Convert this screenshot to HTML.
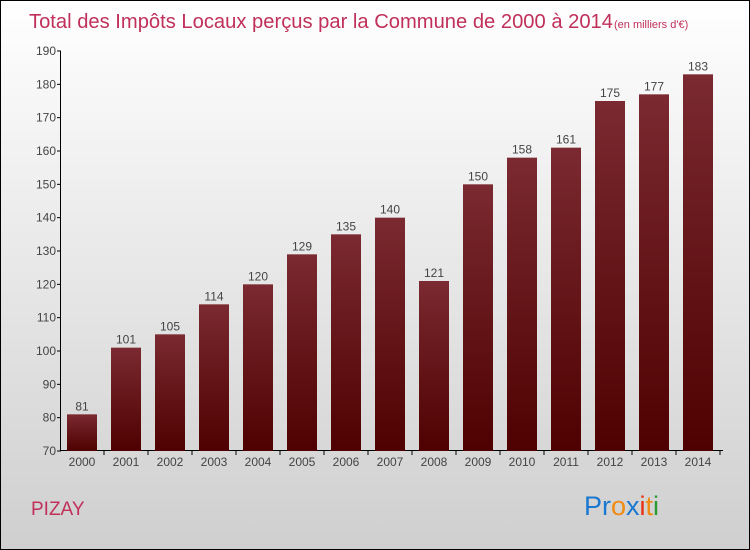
<!DOCTYPE html>
<html><head><meta charset="utf-8"><style>
body{margin:0}
#c{position:relative;width:748px;height:548px;border:1px solid #000;background:linear-gradient(#ffffff,#cfcfcf);font-family:"Liberation Sans",sans-serif;overflow:hidden}
</style></head><body>
<div id="c">
<svg width="748" height="548">
<defs><linearGradient id="g" x1="0" y1="0" x2="0" y2="1"><stop offset="0" stop-color="#7a2a30"/><stop offset="1" stop-color="#4f0000"/></linearGradient></defs>
<text x="28" y="27" font-size="20" fill="#c0305a" textLength="584" lengthAdjust="spacingAndGlyphs">Total des Impôts Locaux perçus par la Commune de 2000 à 2014</text>
<text x="613" y="27" font-size="11" fill="#c0305a">(en milliers d'€)</text>
<g id="plot"></g>
<text x="30" y="514" font-size="19" fill="#c0305a">PIZAY</text>
<text x="583" y="514" font-size="27"><tspan fill="#1a78d0">Pr</tspan><tspan fill="#f08a10">o</tspan><tspan fill="#1a78d0">x</tspan><tspan fill="#e83010">i</tspan><tspan fill="#f08a10">t</tspan><tspan fill="#2a9a30">i</tspan></text>
</svg></div>
<script>
const years=["2000","2001","2002","2003","2004","2005","2006","2007","2008","2009","2010","2011","2012","2013","2014"];
const values=[81,101,105,114,120,129,135,140,121,150,158,161,175,177,183];
const ticks=[70,80,90,100,110,120,130,140,150,160,170,180,190];
const NS="http://www.w3.org/2000/svg";
const g=document.getElementById("plot");
const y=v=>450-(v-70)*400/120;
const x=i=>81+i*44;
function mk(t,a,txt){const e=document.createElementNS(NS,t);for(const k in a)e.setAttribute(k,a[k]);if(txt!==undefined)e.textContent=txt;g.appendChild(e);return e;}
let ax=mk("line",{x1:59.5,y1:50,x2:59.5,y2:450,stroke:"#000"});


let bx=mk("line",{x1:59,y1:449.5,x2:722,y2:449.5,stroke:"#000"});


ticks.forEach(t=>{
 mk("line",{x1:56,y1:y(t),x2:60,y2:y(t),stroke:"#000"});
 let l=mk("text",{x:55,y:y(t)+4,"font-size":12,fill:"#444","text-anchor":"end"},t);
 
 
});
years.forEach((yr,i)=>{
 const v=values[i];
 let r=mk("rect",{x:x(i)-15,y:y(v),width:30,height:450-y(v),fill:"url(#g)"});
 
 
 let vl=mk("text",{x:x(i),y:y(v)-4,"font-size":12,fill:"#444","text-anchor":"middle"},v);
 
 
 mk("line",{x1:x(i)+22,y1:450,x2:x(i)+22,y2:454,stroke:"#000"});
 let xl=mk("text",{x:x(i),y:465,"font-size":12,fill:"#444","text-anchor":"middle"},yr);
 
 
});
</script>
</body></html>
